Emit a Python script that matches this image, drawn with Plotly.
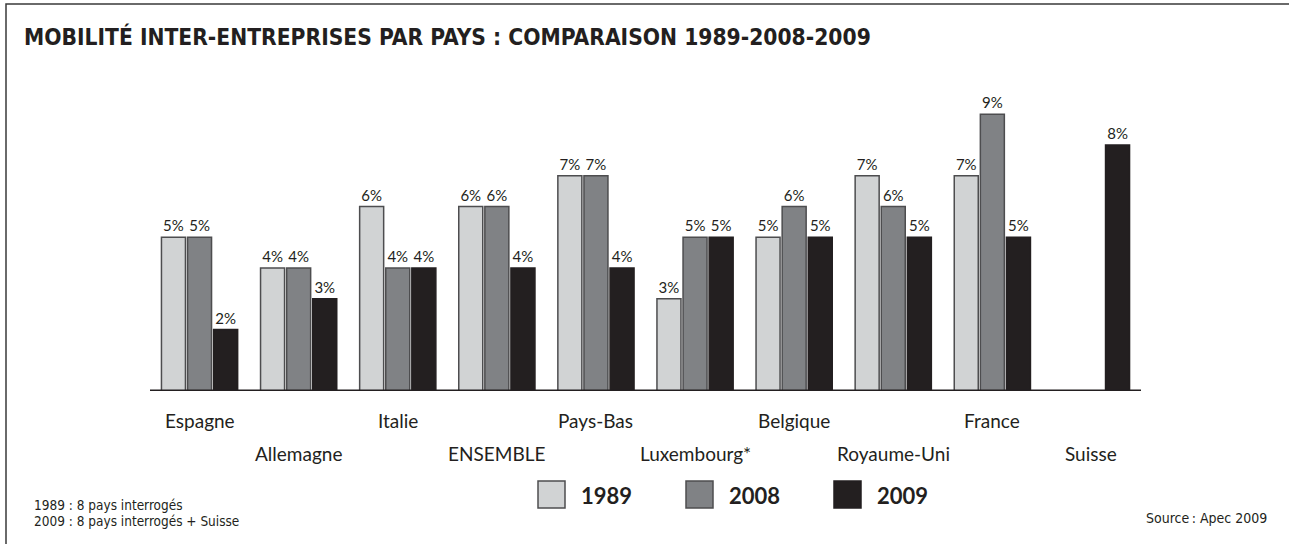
import plotly.graph_objects as go

# ---- data ----
categories = ["Espagne", "Allemagne", "Italie", "ENSEMBLE", "Pays-Bas",
              "Luxembourg*", "Belgique", "Royaume-Uni", "France", "Suisse"]
v1989 = [5, 4, 6, 6, 7, 3, 5, 7, 7, None]
v2008 = [5, 4, 4, 6, 7, 5, 6, 6, 9, None]
v2009 = [2, 3, 4, 4, 4, 5, 5, 5, 5, 8]
series_names = ["1989", "2008", "2009"]
title_text = "MOBILITÉ INTER-ENTREPRISES PAR PAYS : COMPARAISON 1989-2008-2009"
foot1 = "1989 : 8 pays interrogés"
foot2 = "2009 : 8 pays interrogés + Suisse"
source_text = "Source\u202f: Apec 2009"

# ---- styles ----
colors = ["#d1d3d4", "#808285", "#231f20"]
outlines = ["#4d4d4f", "#4d4d4f", "#231f20"]
INK = "#231f20"
LABEL_FONT = "Lato"
SMALL_FONT = "DejaVu Sans Condensed"

W, H = 1289, 544
def fx(p): return p / W
def fy(p): return 1 - p / H

base_px, top_px, unit = 391, 60, 30.75
ymax = (base_px - top_px) / unit

fig = go.Figure()
for name, vals, c, oc in zip(series_names, [v1989, v2008, v2009], colors, outlines):
    fig.add_trace(go.Bar(
        x=categories, y=vals, name=name,
        marker=dict(color=c, line=dict(color=oc, width=1.5)),
        text=[f"{v}%" if v is not None else "" for v in vals],
        textposition="outside", constraintext="none",
        textfont=dict(family=LABEL_FONT, size=15, color=INK),
        cliponaxis=False, showlegend=False, hoverinfo="x+y+name",
    ))

annotations = []
# title
annotations.append(dict(
    text=f"<b>{title_text}</b>", xref="paper", yref="paper",
    x=fx(22), y=fy(37), xanchor="left", yanchor="middle", showarrow=False,
    font=dict(family="DejaVu Sans Condensed", size=22.6, color=INK)))
# staggered category labels
for i, cat in enumerate(categories):
    ypx = 420 if i % 2 == 0 else 453
    annotations.append(dict(
        text=cat, xref="x", yref="paper", x=cat, y=fy(ypx),
        xanchor="center", yanchor="middle", showarrow=False,
        font=dict(family=LABEL_FONT, size=19, color=INK)))

shapes = []
# baseline
shapes.append(dict(type="line", xref="paper", yref="y", x0=fx(150), x1=fx(1141),
                   y0=0, y1=0, line=dict(color=INK, width=3)))
# legend
for i, (name, c, oc) in enumerate(zip(series_names, colors, outlines)):
    x0 = 538 + i * 148
    shapes.append(dict(type="rect", xref="paper", yref="paper",
                       x0=fx(x0), x1=fx(x0 + 27), y0=fy(508), y1=fy(481),
                       fillcolor=c, line=dict(color=oc, width=1.5)))
    annotations.append(dict(
        text=f"<b>{name}</b>", xref="paper", yref="paper",
        x=fx(x0 + 41), y=fy(495), xanchor="left", yanchor="middle", showarrow=False,
        font=dict(family=LABEL_FONT, size=22, color=INK)))
# footnotes
annotations.append(dict(text=foot1, xref="paper", yref="paper", x=fx(32), y=fy(505),
                        xanchor="left", yanchor="middle", showarrow=False,
                        font=dict(family=SMALL_FONT, size=13.5, color=INK)))
annotations.append(dict(text=foot2, xref="paper", yref="paper", x=fx(32), y=fy(521),
                        xanchor="left", yanchor="middle", showarrow=False,
                        font=dict(family=SMALL_FONT, size=13.5, color=INK)))
annotations.append(dict(text=source_text, xref="paper", yref="paper", x=fx(1269), y=fy(518),
                        xanchor="right", yanchor="middle", showarrow=False,
                        font=dict(family=SMALL_FONT, size=14, color=INK)))
# frame
shapes.append(dict(type="rect", xref="paper", yref="paper",
                   x0=fx(6), x1=1.02, y0=-0.03, y1=fy(4),
                   line=dict(color="#3a3a3a", width=1.5), fillcolor="rgba(0,0,0,0)"))

fig.update_layout(
    width=W, height=H, margin=dict(l=0, r=0, t=0, b=0),
    paper_bgcolor="white", plot_bgcolor="white",
    barmode="group", bargap=0.21, bargroupgap=0.08,
    xaxis=dict(domain=[fx(150), fx(1141)], range=[-0.5, 9.5], showticklabels=False,
               showline=False, showgrid=False, zeroline=False, ticks=""),
    yaxis=dict(domain=[fy(base_px), fy(top_px)], range=[0, ymax], visible=False),
    annotations=annotations, shapes=shapes, showlegend=False,
)

fig.write_html("out.html", config={"displayModeBar": False},
               post_script="document.body.style.margin='0px';")
